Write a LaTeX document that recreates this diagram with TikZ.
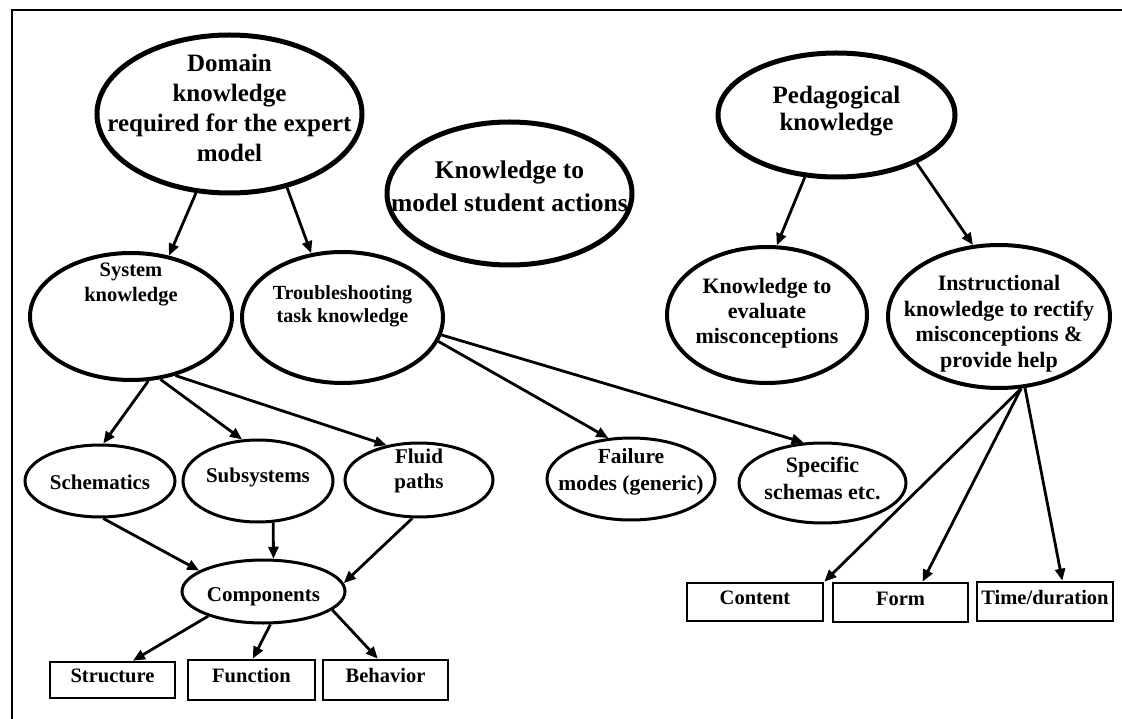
\documentclass[tikz,border=0pt]{standalone}
\usepackage{fontspec}
\setmainfont{Liberation Serif}
\usetikzlibrary{shapes.geometric,arrows.meta,calc}
\begin{document}
\begin{tikzpicture}[x=1pt,y=-1pt,
  oval/.style={ellipse,draw,inner sep=0pt},
  bigoval/.style={oval,line width=5pt},
  midoval/.style={oval,line width=4pt},
  smalloval/.style={oval,line width=3pt},
  leaf/.style={draw,line width=2.6pt,inner sep=0pt,minimum height=38pt,
    text height=13pt,text depth=8pt,font=\bfseries\fontsize{20.5}{24}\selectfont},
  lbl/.style={align=center,inner sep=0pt,font=\bfseries\fontsize{21}{25}\selectfont},
  link/.style={line width=2.8pt,-{Triangle[length=12pt,width=10pt]}},
]
\useasboundingbox (0,0) rectangle (1122,719);
\fill[white] (0,0) rectangle (1122,719);

% outer frame (top and left edges)
\draw[line width=2.5pt] (1122,10) -- (12,10) -- (12,719);

% top-level knowledge areas
\node[bigoval,minimum width=265pt,minimum height=158pt] (dom) at (229.5,114) {};
\node[lbl,font=\bfseries\fontsize{25}{30}\selectfont] (domt) at ($(dom)+(0,-6.5)$)
  {Domain\\knowledge\\required for the expert\\model};

\node[bigoval,minimum width=245pt,minimum height=143pt] (stu) at (509.5,193.5) {};
\node[lbl,font=\bfseries\fontsize{25.5}{33}\selectfont] (stut) at ($(stu)+(0,-7)$)
  {Knowledge to\\model student actions};

\node[bigoval,minimum width=237pt,minimum height=124pt] (ped) at (836.5,115) {};
\node[lbl,font=\bfseries\fontsize{25}{27}\selectfont] (pedt) at ($(ped)+(0,-3.5)$)
  {Pedagogical\\knowledge};

% second level
\node[midoval,minimum width=202pt,minimum height=127pt] (sys) at (131,316.5) {};
\node[lbl,font=\bfseries\fontsize{20.5}{25}\selectfont] (syst) at ($(sys)+(0,-32)$)
  {System\\knowledge};

\node[midoval,minimum width=201pt,minimum height=131pt] (trb) at (342.5,317.5) {};
\node[lbl,font=\bfseries\fontsize{20}{23}\selectfont] (trbt) at ($(trb)+(0,-11)$)
  {Troubleshooting\\task knowledge};

\node[midoval,minimum width=200pt,minimum height=136pt] (evl) at (767,315) {};
\node[lbl,font=\bfseries\fontsize{22}{25}\selectfont] (evlt) at ($(evl)+(0,-2)$)
  {Knowledge to\\evaluate\\misconceptions};

\node[midoval,minimum width=222pt,minimum height=143pt] (ins) at (999,316.5) {};
\node[lbl,font=\bfseries\fontsize{22}{25.5}\selectfont] (inst) at ($(ins)+(0,7)$)
  {Instructional\\knowledge to rectify\\misconceptions \&\\provide help};

% third level
\node[smalloval,minimum width=150pt,minimum height=72pt] (sch) at (100,481) {};
\node[lbl] (scht) at ($(sch)+(0,1)$) {Schematics};

\node[smalloval,minimum width=150pt,minimum height=82pt] (sub) at (258,481) {};
\node[lbl] (subt) at ($(sub)+(0,-4)$) {Subsystems};

\node[smalloval,minimum width=148pt,minimum height=74pt] (flu) at (419,480) {};
\node[lbl] (flut) at ($(flu)+(0,-9.5)$) {Fluid\\paths};

\node[smalloval,minimum width=168pt,minimum height=82pt] (fai) at (631,479) {};
\node[lbl,font=\bfseries\fontsize{21.5}{27}\selectfont] (fait) at ($(fai)+(0,-7.5)$)
  {Failure\\modes (generic)};

\node[smalloval,minimum width=167pt,minimum height=80pt] (spc) at (822.5,483) {};
\node[lbl,font=\bfseries\fontsize{22}{27}\selectfont] (spct) at ($(spc)+(0,-4.5)$)
  {Specific\\schemas etc.};

\node[smalloval,minimum width=163pt,minimum height=63pt] (cmp) at (263.5,591.5) {};
\node[lbl] (cmpt) at ($(cmp)+(0,5.5)$) {Components};

% leaf boxes
\node[leaf,minimum width=125pt,minimum height=36pt] (str) at (112.5,680) {Structure};
\node[leaf,minimum width=127pt,minimum height=40pt] (fun) at (251.5,680) {Function};
\node[leaf,minimum width=125pt,minimum height=40pt] (beh) at (385.5,680) {Behavior};
\node[leaf,minimum width=136pt] (con) at (755,602) {Content};
\node[leaf,minimum width=135pt,minimum height=39pt] (frm) at (900.5,602.5) {Form};
\node[leaf,minimum width=136pt,minimum height=39pt] (tim) at (1045,601.5) {Time/duration};

% connectors
\draw[link] (dom.-113.6) -- (sys.58);
\draw[link] (dom.-52) -- (trb.116);
\draw[link] (ped.-117) -- (evl.82);
\draw[link] (ped.-31) -- (ins.110);

\draw[link] (sys.-75) -- (sch.85);
\draw[link] (sys.-65.5) -- (sub.111);
\draw[link] (sys.-53) -- (flu.133);
\draw[link] (trb.-14) -- (fai.119);
\draw[link] (trb.-10) -- (spc.115);

\draw[link] (sch.-85) -- (cmp.162);
\draw[link] (sub.-70) -- (cmp.73);
\draw[link] (flu.-100) -- (cmp.6);

\draw[link] (cmp.-156) -- ($(str.north west)!0.66!(str.north east)$);
\draw[link] (cmp.-78) -- ($(fun.north west)!0.51!(fun.north east)$);
\draw[link] (cmp.-15.5) -- ($(beh.north west)!0.44!(beh.north east)$);

\coordinate (hub) at (ins.-73);
\draw[link] (hub) -- (con.north east);
\draw[link] (hub) -- ($(frm.north west)!0.66!(frm.north east)$);
\draw[link] (ins.-70) -- ($(tim.north west)!0.625!(tim.north east)$);
\end{tikzpicture}
\end{document}
